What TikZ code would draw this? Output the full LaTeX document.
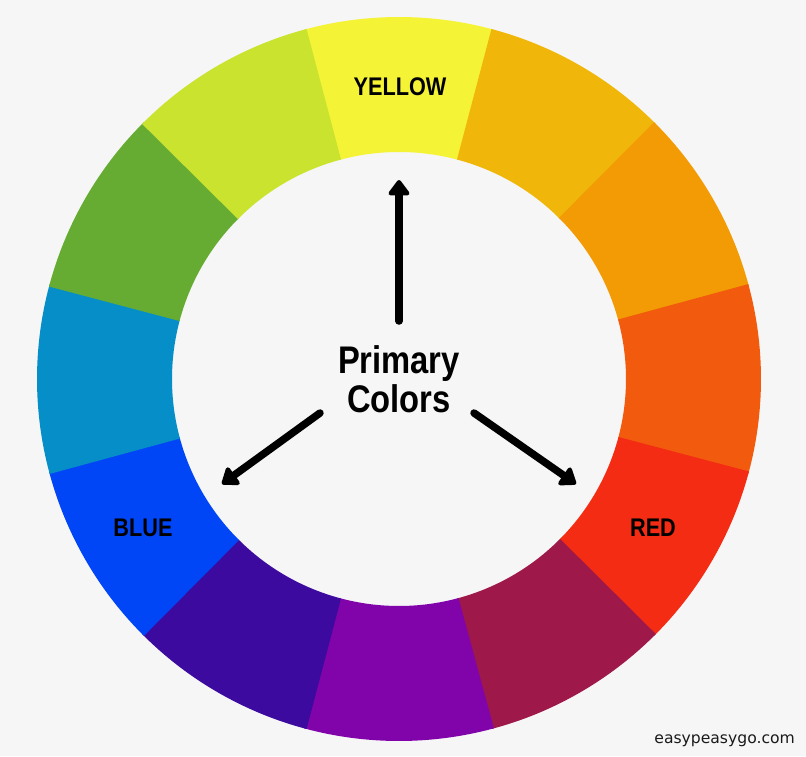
\documentclass[tikz,border=0pt]{standalone}
\usepackage{fontspec}
\setmainfont{Liberation Sans}
\newfontfamily\lblfont[FakeStretch=0.85]{Liberation Sans}
\newfontfamily\wmfont{DejaVu Sans}
\usetikzlibrary{arrows.meta}
\definecolor{bgc}{HTML}{F6F6F6}
\definecolor{cA}{HTML}{F5F336}
\definecolor{cB}{HTML}{F0B70A}
\definecolor{cC}{HTML}{F29B05}
\definecolor{cD}{HTML}{F25A0E}
\definecolor{cE}{HTML}{F42C13}
\definecolor{cF}{HTML}{9E1849}
\definecolor{cG}{HTML}{8004AA}
\definecolor{cH}{HTML}{3C0A9E}
\definecolor{cI}{HTML}{0046F6}
\definecolor{cJ}{HTML}{068EC8}
\definecolor{cK}{HTML}{66AC33}
\definecolor{cL}{HTML}{C9E32F}
\definecolor{wm}{HTML}{1A1A1A}
\tikzset{
  seglbl/.style={font=\lblfont\bfseries\fontsize{25.5}{25.5}\selectfont, text=black, inner sep=0pt},
  ptr/.style={line width=7.5pt, line cap=round, -{Triangle[length=17pt,width=24pt,round]}},
}
\begin{document}
\begin{tikzpicture}[x=1pt,y=1pt]
\useasboundingbox (-399,-377) rectangle (407,379);
\fill[bgc] (-399,-377) rectangle (407,379);
\def\Ro{362}
\def\Ri{227}
\foreach \a/\c in {90/cA,60/cB,30/cC,0/cD,-30/cE,-60/cF,-90/cG,-120/cH,-150/cI,180/cJ,150/cK,120/cL}{
  \fill[\c] (\a+15.2:\Ro) arc[start angle=\a+15.2, end angle=\a-15.2, radius=\Ro]
     -- (\a-15.2:\Ri) arc[start angle=\a-15.2, end angle=\a+15.2, radius=\Ri] -- cycle;
}
\node[seglbl] (yel) at (1,292.5) {YELLOW};
\node[seglbl] (blu) at (-256,-148.5) {BLUE};
\node[seglbl] (red) at (254,-148.5) {RED};
\node[font=\lblfont\bfseries\fontsize{38.5}{39}\selectfont, align=center, inner sep=0pt] (prim) at (0,0) {Primary\\Colors};
\coordinate (upT) at (0,58);
\coordinate (upH) at (0,199);
\coordinate (lT) at (-79,-34);
\coordinate (lH) at (-177,-105);
\coordinate (rT) at (75,-34);
\coordinate (rH) at (177,-105);
\draw[ptr] (upT) -- (upH);
\draw[ptr] (lT) -- (lH);
\draw[ptr] (rT) -- (rH);
\node[font=\wmfont\fontsize{15.6}{17}\selectfont, text=wm, anchor=base east, inner sep=0pt] (wmk) at (396,-364) {easypeasygo.com};
\end{tikzpicture}
\end{document}
